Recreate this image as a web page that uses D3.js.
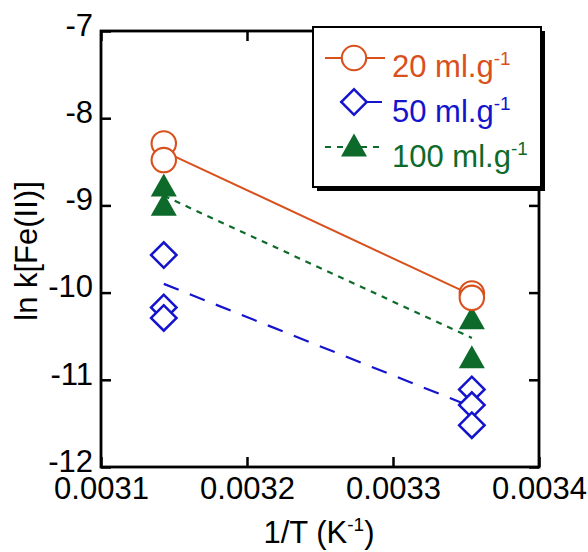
<!DOCTYPE html>
<html><head><meta charset="utf-8">
<script src="https://cdn.jsdelivr.net/npm/d3@7"></script>
<style>body{margin:0;background:#fff}svg{display:block}text{font-family:"Liberation Sans",Arial,sans-serif}</style>
</head><body><svg id="c" width="588" height="552"></svg>
<script>
// ---- data ----
const xTicks = [0.0031, 0.0032, 0.0033, 0.0034];
const yTicks = [-12, -11, -10, -9, -8, -7];
const xLeft = 0.003143, xRight = 0.003354;
const s20x = [xLeft, xLeft, xRight, xRight];
const s20y = [-8.29, -8.48, -10.01, -10.06];
const s50x = [xLeft, xLeft, xLeft, xRight, xRight, xRight];
const s50y = [-9.57, -10.17, -10.29, -11.11, -11.29, -11.52];
const s100x = [xLeft, xLeft, xRight, xRight];
const s100y = [-8.79, -9.01, -10.31, -10.76];
const fitX = [xLeft, xRight];
const fit20 = [-8.38, -10.03];
const fit50 = [-9.90, -11.31];
const fit100 = [-8.89, -10.52];
const seriesNames = ["20 ml.g", "50 ml.g", "100 ml.g"];

const svg = d3.select("#c");
const xs = d3.scaleLinear().domain([0.0031, 0.0034]).range([101, 539]);
const ys = d3.scaleLinear().domain([-12, -7]).range([467, 31]);
const C20 = "#d8501c", C50 = "#1414cc", C100 = "#0d6a2a";
const FS = 31;

const plot = svg.append("g");
const axB = d3.axisBottom(xs).tickValues(xTicks).tickSizeInner(-10).tickSizeOuter(0).tickFormat(d3.format(".4f")).tickPadding(10);
const axL = d3.axisLeft(ys).tickValues(yTicks).tickSizeInner(-10).tickSizeOuter(0).tickFormat(d => String(d)).tickPadding(8);
const axT = d3.axisTop(xs).tickValues(xTicks).tickSizeInner(-10).tickSizeOuter(0).tickFormat("");
const axR = d3.axisRight(ys).tickValues(yTicks).tickSizeInner(-10).tickSizeOuter(0).tickFormat("");
function style(g){
  g.select(".domain").remove();
  g.selectAll(".tick line").attr("stroke","#000").attr("stroke-width",2.5);
  g.selectAll(".tick text").attr("fill","#000").style("font-size",FS+"px").style("font-family",'"Liberation Sans",Arial,sans-serif');
}
svg.append("g").attr("transform","translate(0,467)").call(axB).call(style);
svg.append("g").attr("transform","translate(101,0)").call(axL).call(style)
  .selectAll(".tick text").attr("dy","0.14em");
svg.append("g").attr("transform","translate(0,31)").call(axT).call(style);
svg.append("g").attr("transform","translate(539,0)").call(axR).call(style);
svg.append("rect").attr("x",101).attr("y",31).attr("width",438).attr("height",436)
  .attr("fill","none").attr("stroke","#000").attr("stroke-width",2.8);

// axis titles
const xt = svg.append("text").attr("x",319).attr("y",543).attr("text-anchor","middle").style("font-size","31px");
xt.append("tspan").text("1/T (K");
xt.append("tspan").text("-1").style("font-size","19px").attr("dy","-12");
xt.append("tspan").text(")").attr("dy","12");
svg.append("text").attr("transform","translate(37,251) rotate(-90)").attr("text-anchor","middle")
  .style("font-size","31px").text("ln k[Fe(II)]");

// fit lines
const line = d3.line().x(d=>xs(d[0])).y(d=>ys(d[1]));
plot.append("path").attr("d", line(d3.zip(fitX, fit20))).attr("fill","none").attr("stroke",C20).attr("stroke-width",2);
plot.append("path").attr("d", line(d3.zip(fitX, fit50))).attr("fill","none").attr("stroke",C50).attr("stroke-width",2.2).attr("stroke-dasharray","16,12");
plot.append("path").attr("d", line(d3.zip(fitX, fit100))).attr("fill","none").attr("stroke",C100).attr("stroke-width",2.2).attr("stroke-dasharray","6,6");

// markers
const tri = "M0,-13.5 L13,9.5 L-13,9.5 Z";
const D = 18;
d3.zip(s50x, s50y).forEach(d => {
  plot.append("rect").attr("x",-D/2).attr("y",-D/2).attr("width",D).attr("height",D)
    .attr("transform",`translate(${xs(d[0])},${ys(d[1])}) rotate(45)`)
    .attr("fill","#fff").attr("stroke",C50).attr("stroke-width",2.5);
});
d3.zip(s100x, s100y).forEach(d => {
  plot.append("path").attr("d",tri).attr("transform",`translate(${xs(d[0])},${ys(d[1])})`).attr("fill",C100);
});
d3.zip(s20x, s20y).forEach(d => {
  plot.append("circle").attr("cx",xs(d[0])).attr("cy",ys(d[1])).attr("r",12.2)
    .attr("fill","#fff").attr("stroke",C20).attr("stroke-width",2.1);
});

// legend
const lg = svg.append("g");
lg.append("rect").attr("x",317).attr("y",31).attr("width",228).attr("height",160).attr("fill","#000");
lg.append("rect").attr("x",313).attr("y",27).attr("width",228).attr("height",160).attr("fill","#fff").attr("stroke","#000").attr("stroke-width",2);
const rowsY = [58, 102, 147];
const textY = [77, 122, 167];
const cols = [C20, C50, C100];
lg.append("line").attr("x1",325).attr("x2",385).attr("y1",rowsY[0]).attr("y2",rowsY[0]).attr("stroke",C20).attr("stroke-width",2);
lg.append("circle").attr("cx",354).attr("cy",rowsY[0]).attr("r",12.2).attr("fill","#fff").attr("stroke",C20).attr("stroke-width",2.1);
lg.append("line").attr("x1",340).attr("x2",382).attr("y1",rowsY[1]).attr("y2",rowsY[1]).attr("stroke",C50).attr("stroke-width",2.2);
lg.append("rect").attr("x",-D/2).attr("y",-D/2).attr("width",D).attr("height",D)
  .attr("transform",`translate(354,${rowsY[1]}) rotate(45)`).attr("fill","#fff").attr("stroke",C50).attr("stroke-width",2.5);
lg.append("line").attr("x1",325).attr("x2",385).attr("y1",rowsY[2]).attr("y2",rowsY[2]).attr("stroke",C100).attr("stroke-width",2.2).attr("stroke-dasharray","6,6");
lg.append("path").attr("d",tri).attr("transform",`translate(354,${rowsY[2]})`).attr("fill",C100);
seriesNames.forEach((n,i) => {
  const t = lg.append("text").attr("x",392).attr("y",textY[i]).attr("fill",cols[i]).style("font-size","31px");
  t.append("tspan").text(n);
  t.append("tspan").text("-1").style("font-size","19px").attr("dy","-12");
});
</script></body></html>
